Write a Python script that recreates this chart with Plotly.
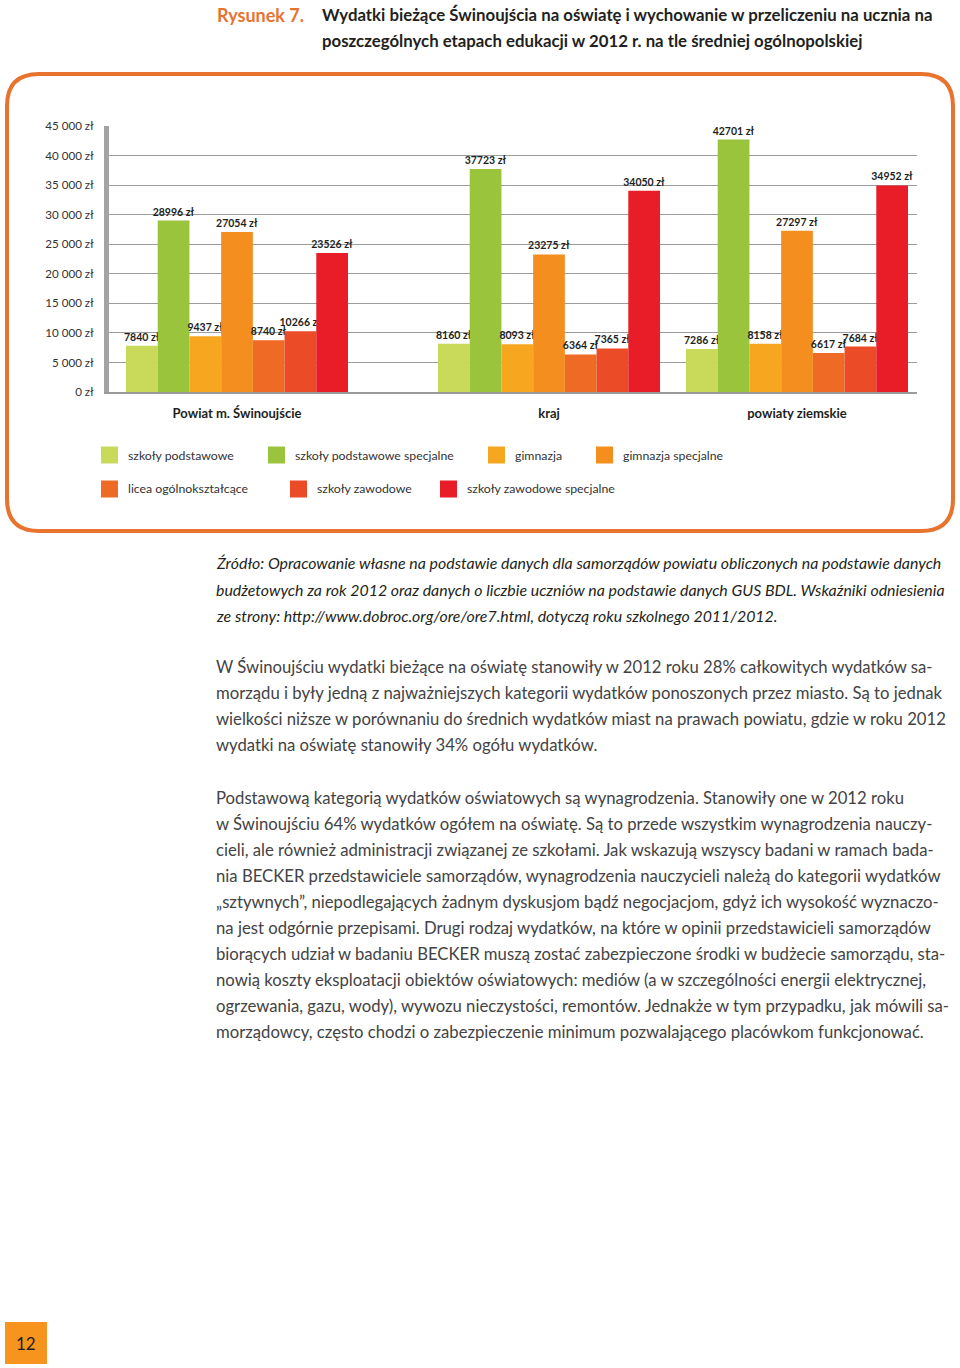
import plotly.graph_objects as go

# ---------------- data ----------------
groups = ["Powiat m. Świnoujście", "kraj", "powiaty ziemskie"]
series_names = [
    "szkoły podstawowe",
    "szkoły podstawowe specjalne",
    "gimnazja",
    "gimnazja specjalne",
    "licea ogólnokształcące",
    "szkoły zawodowe",
    "szkoły zawodowe specjalne",
]
szkoly_podstawowe = [7840, 8160, 7286]
szkoly_podstawowe_specjalne = [28996, 37723, 42701]
gimnazja = [9437, 8093, 8158]
gimnazja_specjalne = [27054, 23275, 27297]
licea_ogolnoksztalcace = [8740, 6364, 6617]
szkoly_zawodowe = [10266, 7365, 7684]
szkoly_zawodowe_specjalne = [23526, 34050, 34952]
series_values = [
    szkoly_podstawowe,
    szkoly_podstawowe_specjalne,
    gimnazja,
    gimnazja_specjalne,
    licea_ogolnoksztalcace,
    szkoly_zawodowe,
    szkoly_zawodowe_specjalne,
]
y_tick_values = [0, 5000, 10000, 15000, 20000, 25000, 30000, 35000, 40000, 45000]
y_tick_labels = ["0 zł", "5 000 zł", "10 000 zł", "15 000 zł", "20 000 zł",
                 "25 000 zł", "30 000 zł", "35 000 zł", "40 000 zł", "45 000 zł"]

title_label = "Rysunek 7."
title_lines = [
    "Wydatki bieżące Świnoujścia na oświatę i wychowanie w przeliczeniu na ucznia na",
    "poszczególnych etapach edukacji w 2012 r. na tle średniej ogólnopolskiej",
]
source_lines = [
    "Źródło: Opracowanie własne na podstawie danych dla samorządów powiatu obliczonych na podstawie danych",
    "budżetowych za rok 2012 oraz danych o liczbie uczniów na podstawie danych GUS BDL. Wskaźniki odniesienia",
    "ze strony: http://www.dobroc.org/ore/ore7.html, dotyczą roku szkolnego 2011/2012.",
]
para1_lines = [
    "W Świnoujściu wydatki bieżące na oświatę stanowiły w 2012 roku 28% całkowitych wydatków sa-",
    "morządu i były jedną z najważniejszych kategorii wydatków ponoszonych przez miasto. Są to jednak",
    "wielkości niższe w porównaniu do średnich wydatków miast na prawach powiatu, gdzie w roku 2012",
    "wydatki na oświatę stanowiły 34% ogółu wydatków.",
]
para2_lines = [
    "Podstawową kategorią wydatków oświatowych są wynagrodzenia. Stanowiły one w 2012 roku",
    "w Świnoujściu 64% wydatków ogółem na oświatę. Są to przede wszystkim wynagrodzenia nauczy-",
    "cieli, ale również administracji związanej ze szkołami. Jak wskazują wszyscy badani w ramach bada-",
    "nia BECKER przedstawiciele samorządów, wynagrodzenia nauczycieli należą do kategorii wydatków",
    "„sztywnych”, niepodlegających żadnym dyskusjom bądź negocjacjom, gdyż ich wysokość wyznaczo-",
    "na jest odgórnie przepisami. Drugi rodzaj wydatków, na które w opinii przedstawicieli samorządów",
    "biorących udział w badaniu BECKER muszą zostać zabezpieczone środki w budżecie samorządu, sta-",
    "nowią koszty eksploatacji obiektów oświatowych: mediów (a w szczególności energii elektrycznej,",
    "ogrzewania, gazu, wody), wywozu nieczystości, remontów. Jednakże w tym przypadku, jak mówili sa-",
    "morządowcy, często chodzi o zabezpieczenie minimum pozwalającego placówkom funkcjonować.",
]
page_number = "12"

# ---------------- styles / layout ----------------
colors = ["#C9DA5B", "#9AC43C", "#F7A61F", "#F48F1F", "#EF6A25", "#EB4B26", "#E91D27"]
W, H = 960, 1368
FONT = "Lato"
DARK = "#231F20"
BODY = "#434344"
ORANGE = "#E8732F"


def X(px):
    return px / W


def Y(py):
    return 1 - py / H


# horizontal layout of the three group panels (pixels)
panel_bounds = [109, 393, 673, 917]
group_centers = [237, 549, 797]
px_per_unit = 250
group_px = 222
plot_top, plot_bottom = 126, 392

fig = go.Figure()
for gi, g in enumerate(groups):
    ax = "" if gi == 0 else str(gi + 1)
    for si, name in enumerate(series_names):
        v = series_values[si][gi]
        fig.add_trace(
            go.Bar(
                x=[g],
                y=[v],
                name=name,
                marker=dict(color=colors[si], line=dict(width=0)),
                text=[f"{v} zł"],
                textposition="outside",
                constraintext="none",
                cliponaxis=False,
                textfont=dict(family=FONT, size=10.5, color=DARK, weight="bold"),
                xaxis="x" + ax,
                yaxis="y" + ax,
                showlegend=False,
                hovertemplate="%{x}<br>" + name + ": %{y} zł<extra></extra>",
            )
        )

layout_axes = {}
for gi in range(3):
    ax = "" if gi == 0 else str(gi + 1)
    a, b = panel_bounds[gi], panel_bounds[gi + 1]
    c = group_centers[gi]
    layout_axes["xaxis" + ax] = dict(
        domain=[X(a), X(b)],
        type="category",
        range=[-(c - a) / px_per_unit, (b - c) / px_per_unit],
        anchor="y" + ax,
        automargin=False,
        showgrid=False,
        showline=True,
        linecolor="#9B9B9B",
        linewidth=2,
        ticks="outside",
        ticklen=8,
        tickcolor="rgba(0,0,0,0)",
        tickfont=dict(family=FONT, size=13, color=DARK, weight="bold"),
        fixedrange=True,
    )
    yax = dict(
        domain=[Y(plot_bottom), Y(plot_top)],
        range=[0, 45000],
        tickmode="array",
        tickvals=y_tick_values,
        ticktext=y_tick_labels,
        anchor="x" + ax,
        automargin=False,
        showgrid=True,
        gridcolor="#9C9C9C",
        gridwidth=1,
        zeroline=True,
        zerolinecolor="#9C9C9C",
        zerolinewidth=1,
        tickfont=dict(family=FONT, size=11.6, color="#333333"),
        fixedrange=True,
    )
    if gi == 0:
        yax.update(showline=True, linecolor="#A3A3A3", linewidth=5,
                   ticks="outside", ticklen=8, tickcolor="rgba(0,0,0,0)")
    else:
        yax.update(matches="y", showticklabels=False, showline=False)
    layout_axes["yaxis" + ax] = yax

fig.update_layout(
    **layout_axes,
    width=W,
    height=H,
    autosize=False,
    margin=dict(l=0, r=0, t=0, b=0, pad=0, autoexpand=False),
    showlegend=False,
    paper_bgcolor="white",
    plot_bgcolor="white",
    barmode="group",
    bargap=1 - group_px / px_per_unit,
    bargroupgap=0,
    font=dict(family=FONT, color=DARK),
)

shapes = []
annotations = []

# rounded orange frame
L, R, T, B, r = 7, 953, 74, 531, 32
pts = [
    ("M", (L + r, T)), ("L", (R - r, T)), ("Q", (R, T), (R, T + r)),
    ("L", (R, B - r)), ("Q", (R, B), (R - r, B)), ("L", (L + r, B)),
    ("Q", (L, B), (L, B - r)), ("L", (L, T + r)), ("Q", (L, T), (L + r, T)),
]
path = ""
for p in pts:
    cmd = p[0]
    coords = " ".join(f"{X(px):.5f},{Y(py):.5f}" for px, py in p[1:])
    path += f"{cmd} {coords} "
path += "Z"
shapes.append(dict(type="path", xref="paper", yref="paper", path=path,
                   line=dict(color=ORANGE, width=4), layer="below"))

# legend (manual, two rows)
legend_pos = [(101, 455), (268, 455), (488, 455), (596, 455),
              (101, 489), (290, 489), (440, 489)]
sq = 17
for (lx, ly), name, col in zip(legend_pos, series_names, colors):
    shapes.append(dict(type="rect", xref="paper", yref="paper",
                       x0=X(lx), x1=X(lx + sq), y0=Y(ly + sq / 2), y1=Y(ly - sq / 2),
                       fillcolor=col, line=dict(width=0)))
    annotations.append(dict(xref="paper", yref="paper", x=X(lx + sq + 8), y=Y(ly),
                            xanchor="left", yanchor="middle", showarrow=False,
                            text=name, font=dict(family=FONT, size=12.3, color="#333333")))

# title
annotations.append(dict(xref="paper", yref="paper", x=X(215), y=Y(15), xanchor="left",
                        yanchor="middle", showarrow=False, text=title_label,
                        font=dict(family=FONT, size=18, color=ORANGE, weight="bold")))
for i, line in enumerate(title_lines):
    annotations.append(dict(xref="paper", yref="paper", x=X(320), y=Y(15 + 26 * i),
                            xanchor="left", yanchor="middle", showarrow=False, text=line,
                            font=dict(family=FONT, size=16.8, color=DARK, weight="bold")))

# source
for i, line in enumerate(source_lines):
    annotations.append(dict(xref="paper", yref="paper", x=X(214), y=Y(563 + 26 * i),
                            xanchor="left", yanchor="middle", showarrow=False, text=line,
                            font=dict(family=FONT, size=15.9, color=DARK, style="italic")))

# body paragraphs
for i, line in enumerate(para1_lines):
    annotations.append(dict(xref="paper", yref="paper", x=X(214), y=Y(667 + 26 * i),
                            xanchor="left", yanchor="middle", showarrow=False, text=line,
                            font=dict(family=FONT, size=16.7, color=BODY)))
for i, line in enumerate(para2_lines):
    annotations.append(dict(xref="paper", yref="paper", x=X(214), y=Y(798 + 26 * i),
                            xanchor="left", yanchor="middle", showarrow=False, text=line,
                            font=dict(family=FONT, size=16.7, color=BODY)))

# page number box
shapes.append(dict(type="rect", xref="paper", yref="paper", x0=X(5), x1=X(47),
                   y0=Y(1364), y1=Y(1322), fillcolor="#F7941E", line=dict(width=0)))
annotations.append(dict(xref="paper", yref="paper", x=X(26), y=Y(1343), xanchor="center",
                        yanchor="middle", showarrow=False, text=page_number,
                        font=dict(family=FONT, size=17, color=DARK)))

fig.update_layout(shapes=shapes, annotations=annotations)

fig.write_html("out.html", config={"displayModeBar": False},
               post_script="document.body.style.margin='0px';")
